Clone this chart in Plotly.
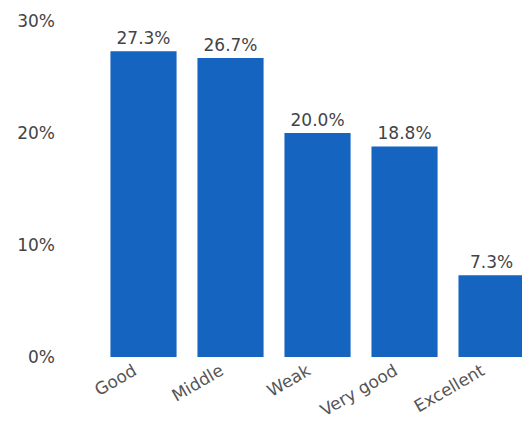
import plotly.graph_objects as go

categories = ["Good", "Middle", "Weak", "Very good", "Excellent"]
values = [27.3, 26.7, 20.0, 18.8, 7.3]
labels = [f"{v:.1f}%" for v in values]
y_ticks = [0, 10, 20, 30]
y_tick_text = ["0%", "10%", "20%", "30%"]

fig = go.Figure(
    go.Bar(
        x=categories,
        y=values,
        text=labels,
        textposition="outside",
        cliponaxis=False,
        marker=dict(color="#1565C0", line=dict(width=0)),
        textfont=dict(family="DejaVu Sans", size=17, color="#444444"),
        width=0.76,
    )
)

fig.update_layout(
    width=522,
    height=423,
    margin=dict(l=100, r=0, t=21, b=66),
    paper_bgcolor="white",
    plot_bgcolor="white",
    showlegend=False,
    font=dict(family="DejaVu Sans", size=17, color="#444444"),
    xaxis=dict(
        range=[-0.5, 4.35],
        tickangle=-30,
        showgrid=False,
        showline=False,
        ticks="",
        ticklabelshift=-10,
        tickfont=dict(size=17, color="#555555"),
    ),
    yaxis=dict(
        range=[0, 30],
        tickvals=y_ticks,
        ticktext=y_tick_text,
        showgrid=False,
        zeroline=False,
        showline=False,
        ticks="",
        ticklabelstandoff=44,
        tickfont=dict(size=17, color="#444444"),
    ),
)

fig.write_html("out.html")
